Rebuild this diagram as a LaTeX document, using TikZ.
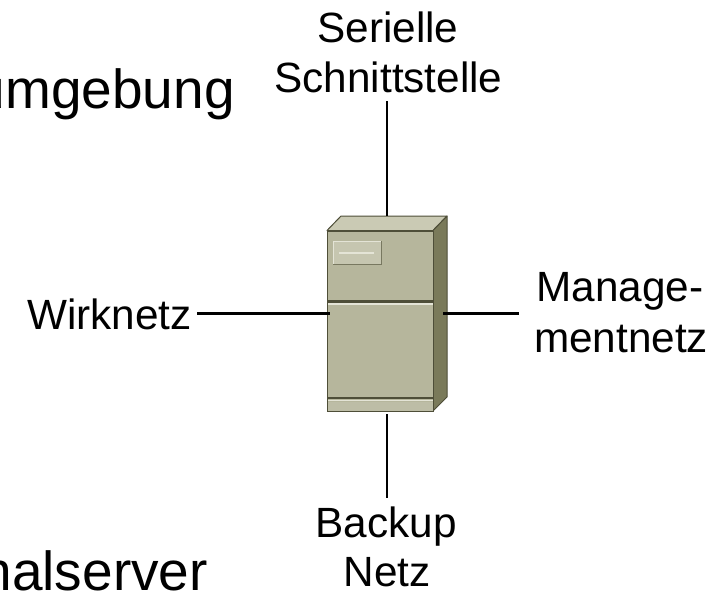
\documentclass[tikz,border=0pt]{standalone}
\usepackage{fontspec}
\setmainfont{Liberation Sans}
\tikzset{
  lbl/.style={inner sep=0pt,align=center,font=\fontsize{42.3}{50}\selectfont},
  big/.style={inner sep=0pt,anchor=base east,font=\fontsize{55}{62}\selectfont},
  wire/.style={draw=black,line width=2.6pt},
  edge/.style={draw=srvedge,line width=1pt,line join=round}
}
\definecolor{srvfront}{HTML}{B6B69C}
\definecolor{srvtop}{HTML}{CACAB4}
\definecolor{srvside}{HTML}{7A7A5A}
\definecolor{srvedge}{HTML}{4E4E38}
\definecolor{srvlight}{HTML}{E4E4D6}
\definecolor{srvpanel}{HTML}{C6C6B0}
\begin{document}
\begin{tikzpicture}[x=1pt,y=-1pt]
\useasboundingbox (0,0) rectangle (726,590);
% text fragments
\node[big] (t1) at (235,108) {umgebung};
\node[big] (t2) at (208,590) {nalserver};
% server
\path[fill=srvtop,edge] (327,230.5) -- (341,216) -- (447,216) -- (433,230.5) -- cycle;
\path[fill=srvside,edge] (433,230.5) -- (447,216) -- (447,397) -- (433,411) -- cycle;
\node[draw=srvedge,fill=srvfront,line width=1pt,minimum width=106pt,minimum height=180.5pt,inner sep=0pt,anchor=north west] (server) at (327,230.5) {};
\fill[srvedge] (327,300) rectangle (433,302.5);
\fill[srvlight] (328,303) rectangle (433,305);
\fill[srvedge] (327,396.5) rectangle (433,398.5);
\fill[srvlight] (328,399.5) rectangle (433,401);
\fill[srvfront!90!white] (328,402) rectangle (432.5,410.5);
\node[draw=srvedge!60!srvfront,fill=srvpanel,line width=1pt,minimum width=48pt,minimum height=23pt,inner sep=0pt,anchor=north west] (panel) at (333,241) {};
\draw[srvlight,line width=1pt] (333,264) -- (333,241) -- (381,241);
\draw[srvlight,line width=2pt] (339,253) -- (374,253);
% labels
\node[lbl,anchor=base] (ser) at (388,42) {Serielle};
\node[lbl,anchor=base] (sch) at (388.5,92) {Schnittstelle};
\node[lbl,anchor=base east] (wir) at (192,329.5) {Wirknetz};
\node[lbl,anchor=base] (man) at (620,301) {Manage-};
\node[lbl,anchor=base] (men) at (621,352) {mentnetz};
\node[lbl,anchor=base] (bac) at (386,537) {Backup};
\node[lbl,anchor=base] (net) at (387,586.5) {Netz};
% connector ends
\coordinate (ct) at (387,101);
\coordinate (st) at (387,216);
\coordinate (sb) at (387,414);
\coordinate (cb) at (387,498);
\coordinate (cl) at (197,313.5);
\coordinate (sl) at (330,313.5);
\coordinate (sr) at (443,313.5);
\coordinate (cr) at (519,313.5);
\draw[wire] (ct) -- (st);
\draw[wire] (sb) -- (cb);
\draw[wire] (cl) -- (sl);
\draw[wire] (sr) -- (cr);
\end{tikzpicture}
\end{document}
